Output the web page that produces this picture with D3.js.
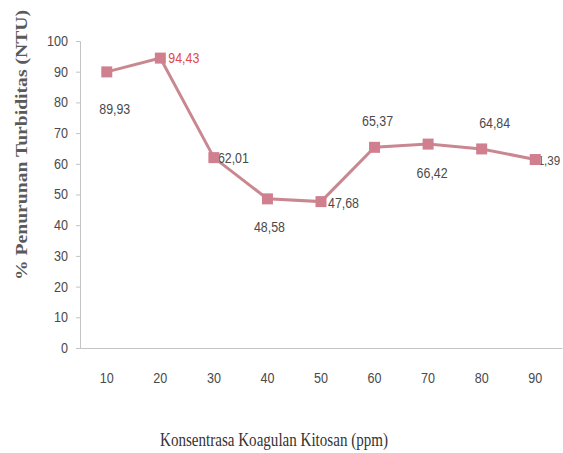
<!DOCTYPE html>
<html><head><meta charset="utf-8">
<script src="https://cdn.jsdelivr.net/npm/d3@7"></script>
<style>body{margin:0;background:#fff}svg{display:block}</style>
</head><body>
<svg id="c" width="563" height="453"></svg>
<script>
const categories = ["10","20","30","40","50","60","70","80","90"];
const values = [89.93, 94.43, 62.01, 48.58, 47.68, 65.37, 66.42, 64.84, 61.39];
const labels = ["89,93","94,43","62,01","48,58","47,68","65,37","66,42","64,84","61,39"];
const labelPos = ["below","right","right","below","right","above","below","above","right"];
const yTicks = [0,10,20,30,40,50,60,70,80,90,100];

// layout tweaks for data label placement (pixels, not data)
const labelDx = [8, 8, 4, 2, 7, 3, 4, 13, -4];
const labelDy = [42, 5, 5, 33, 6, -21, 34, -21, 5];
const labelW  = [31, 31, 31, 31, 31, 31, 31, 31, 29];
const labelSize = [14, 14, 14, 14, 14, 14, 14, 14, 12];

const svg = d3.select("#c");
const m = {left:80, right:562, top:41, bottom:348};
const x = d3.scaleBand().domain(categories).range([m.left, m.right]);
const y = d3.scaleLinear().domain([0,100]).range([m.bottom, m.top]);
const numFont = "'Liberation Sans',Arial,sans-serif";
const serif = "'Liberation Serif','Times New Roman',serif";

// y axis
const ya = svg.append("g").attr("transform",`translate(${m.left},0)`)
  .call(d3.axisLeft(y).tickValues(yTicks).tickSize(4).tickPadding(8));
ya.select(".domain").attr("stroke","#c4c4c4");
ya.selectAll(".tick line").attr("stroke","#c4c4c4");
ya.selectAll(".tick text").attr("font-family",numFont).attr("font-size",14).attr("fill","#4a4a4a")
  .attr("textLength",function(){return this.textContent.length*7;}).attr("lengthAdjust","spacingAndGlyphs");

// x axis
const xa = svg.append("g").attr("transform",`translate(0,${m.bottom})`)
  .call(d3.axisBottom(x).tickSize(0).tickPadding(25));
xa.select(".domain").attr("stroke","#c4c4c4");
xa.selectAll(".tick text").attr("font-family",numFont).attr("font-size",14).attr("fill","#4a4a4a")
  .attr("textLength",function(){return this.textContent.length*7;}).attr("lengthAdjust","spacingAndGlyphs");

// line
const cx = d => x(d) + x.bandwidth()/2;
svg.append("path").datum(values)
  .attr("fill","none").attr("stroke","#c98890").attr("stroke-width",3)
  .attr("d", d3.line().x((d,i)=>cx(categories[i])).y(d=>y(d)));

// labels
svg.selectAll("text.lb").data(values).enter().append("text")
  .attr("class","lb")
  .attr("font-family",numFont).attr("font-size",(d,i)=>labelSize[i])
  .attr("fill",(d,i)=> i===1 ? "#e3474d" : "#4a4a4a")
  .attr("x",(d,i)=> cx(categories[i]) + labelDx[i])
  .attr("y",(d,i)=> y(d) + labelDy[i])
  .attr("text-anchor",(d,i)=> labelPos[i]==="right" ? "start" : "middle")
  .attr("textLength",(d,i)=>labelW[i]).attr("lengthAdjust","spacingAndGlyphs")
  .text((d,i)=>labels[i]);

// markers
svg.selectAll("rect.mk").data(values).enter().append("rect")
  .attr("class","mk")
  .attr("x",(d,i)=>cx(categories[i])-5.5).attr("y",d=>y(d)-5.5)
  .attr("width",11).attr("height",11).attr("fill","#d07f8f");

// axis titles
svg.append("text")
  .attr("transform","translate(27,145) rotate(-90)")
  .attr("text-anchor","middle")
  .attr("font-family",serif)
  .attr("font-weight","bold").attr("font-size",16).attr("fill","#5a5a5a")
  .attr("textLength",270).attr("lengthAdjust","spacingAndGlyphs")
  .text("% Penurunan Turbiditas (NTU)");

svg.append("text")
  .attr("x",274).attr("y",446)
  .attr("text-anchor","middle")
  .attr("font-family",serif)
  .attr("font-size",18).attr("fill","#333")
  .attr("textLength",228).attr("lengthAdjust","spacingAndGlyphs")
  .text("Konsentrasa Koagulan Kitosan (ppm)");
</script>
</body></html>
